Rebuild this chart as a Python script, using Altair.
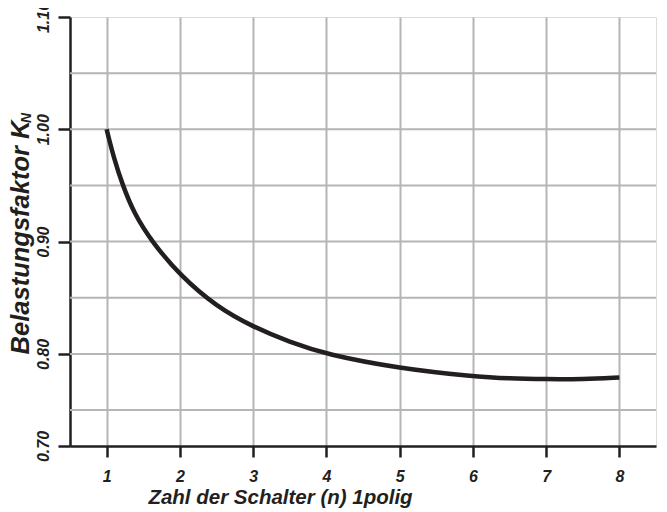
import altair as alt
import pandas as pd

# Curve: number of switches n -> load factor K_N
n_vals = [1.0, 1.1, 1.22, 1.375, 1.617, 2.0, 2.5, 3.0, 3.5, 4.0, 5.0, 6.0, 6.5, 7.0, 7.5, 8.0]
k_vals = [1.000, 0.974, 0.950, 0.925, 0.900, 0.870, 0.842, 0.824, 0.8105, 0.7995, 0.787, 0.780, 0.778, 0.7775, 0.7775, 0.779]

x_ticks = [1, 2, 3, 4, 5, 6, 7, 8]
y_grid = [0.75, 0.80, 0.85, 0.90, 0.95, 1.00, 1.05]
y_tick_values = [0.718, 0.80, 0.90, 1.00, 1.10]
y_tick_labels = ["0.70", "0.80", "0.90", "1.00", "1.10"]

x_title = "Zahl der Schalter (n) 1polig"
y_title = "Belastungsfaktor K"
y_sub = "N"

INK = "#231f20"
GRID = "#b5b5b5"
FONT = "Liberation Sans"

curve = pd.DataFrame({"n": n_vals, "k": k_vals})
grid_df = pd.DataFrame({"k": y_grid})
sub_df = pd.DataFrame({"t": [y_sub]})

label_expr = " : ".join(
    [f"abs(datum.value - {v}) < 0.001 ? '{l}'" for v, l in zip(y_tick_values, y_tick_labels)]
) + " : ''"

x_enc = alt.X(
    "n:Q",
    scale=alt.Scale(domain=[0.5, 8.5], nice=False, zero=False),
    axis=alt.Axis(
        values=x_ticks, title=x_title, grid=True, gridColor=GRID, gridWidth=2,
        domainColor=INK, domainWidth=2.5, tickColor=INK, tickWidth=2.5, tickSize=11,
        labelFont=FONT, labelFontSize=16, labelFontStyle="italic", labelFontWeight="bold",
        labelColor=INK, labelBaseline="alphabetic", labelPadding=24,
        titleFont=FONT, titleFontSize=20.5, titleFontStyle="italic", titleFontWeight="bold",
        titleColor=INK, titleX=210, titleY=57, titleAlign="center", titleBaseline="alphabetic",
    ),
)

y_axis = alt.Axis(
    values=y_tick_values, labelExpr=label_expr, title=y_title, grid=False,
    domainColor=INK, domainWidth=2.5, tickColor=INK, tickWidth=2.5, tickSize=12,
    labelFont=FONT, labelFontSize=16, labelFontStyle="italic", labelFontWeight="bold",
    labelColor=INK, labelAngle=270, labelAlign="center", labelBaseline="alphabetic",
    labelPadding=10,
    titleFont=FONT, titleFontSize=25.5, titleFontStyle="italic", titleFontWeight="bold",
    titleColor=INK, titleAngle=270, titleX=-42, titleY=220, titleAlign="center",
    titleBaseline="alphabetic",
)
y_scale = alt.Scale(domain=[0.718, 1.10], nice=False, zero=False)

grid = alt.Chart(grid_df).mark_rule(color=GRID, strokeWidth=2).encode(
    y=alt.Y("k:Q", scale=y_scale, axis=y_axis)
)

line = alt.Chart(curve).mark_line(
    color=INK, strokeWidth=4.5, interpolate="basis", strokeCap="butt"
).encode(
    x=x_enc,
    y=alt.Y("k:Q", scale=y_scale, axis=y_axis),
)

sub = alt.Chart(sub_df).mark_text(
    font=FONT, fontSize=14, fontStyle="italic", fontWeight="bold", color=INK,
    angle=270, align="center", baseline="alphabetic",
).encode(text="t:N", x=alt.value(-39), y=alt.value(101))

chart = alt.layer(grid, line, sub).properties(
    width=586, height=429,
    autosize=alt.AutoSizeParams(type="none"),
    padding={"left": 62, "top": 9, "right": 3, "bottom": 64},
).configure_view(stroke=INK, strokeWidth=2.5).configure(background="white")

chart.save("out.html", embed_options={"renderer": "svg", "actions": False})
